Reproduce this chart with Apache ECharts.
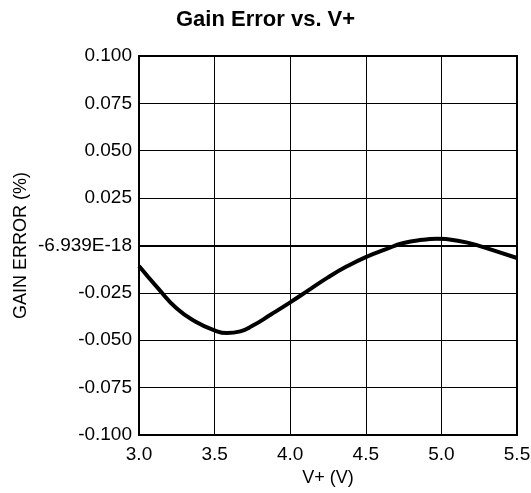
<!DOCTYPE html>
<html>
<head>
<meta charset="utf-8">
<script src="https://cdn.jsdelivr.net/npm/echarts@6/dist/echarts.min.js"></script>
<style>
  html, body { margin: 0; padding: 0; background: #fff; }
  #chart { width: 531px; height: 493px; }
</style>
</head>
<body>
<div id="chart"></div>
<script>
const titleText = 'Gain Error vs. V+';
const xAxisName = 'V+ (V)';
const yAxisName = 'GAIN ERROR (%)';
const vPlus = [3.0, 3.125, 3.25, 3.375, 3.5, 3.58, 3.67, 3.75, 3.875, 4.0, 4.125, 4.25, 4.375, 4.5, 4.625, 4.75, 4.875, 4.97, 5.125, 5.25, 5.375, 5.5];
const gainError = [-0.0108, -0.0225, -0.0333, -0.0402, -0.0448, -0.0462, -0.0453, -0.0424, -0.0363, -0.0300, -0.0234, -0.0168, -0.0110, -0.0061, -0.0022, 0.0013, 0.0030, 0.0035, 0.0022, -0.0002, -0.0034, -0.0066];
const xTickLabels = ['3.0', '3.5', '4.0', '4.5', '5.0', '5.5'];
const yTickLabels = ['-0.100', '-0.075', '-0.050', '-0.025', '-6.939E-18', '0.025', '0.050', '0.075', '0.100'];

const chart = echarts.init(document.getElementById('chart'), null, { renderer: 'canvas' });
const fontFamily = '"Liberation Sans", Arial, sans-serif';

chart.setOption({
  animation: false,
  backgroundColor: '#ffffff',
  title: {
    text: titleText,
    left: 176,
    top: 9,
    padding: 0,
    textStyle: { fontFamily: fontFamily, fontSize: 22, fontWeight: 'bold', color: '#000' }
  },
  grid: {
    left: 139, right: 14, top: 56, bottom: 58,
    outerBoundsMode: 'none',
    containLabel: false,
    show: true,
    borderColor: '#000',
    borderWidth: 2,
    backgroundColor: 'transparent'
  },
  xAxis: {
    type: 'value',
    min: 3.0, max: 5.5, interval: 0.5,
    name: xAxisName,
    nameLocation: 'middle',
    nameGap: 34,
    nameMoveOverlap: false,
    nameTextStyle: { fontFamily: fontFamily, fontSize: 18, color: '#000' },
    axisLine: { show: true, lineStyle: { color: '#000', width: 2 } },
    axisTick: { show: false },
    axisLabel: {
      margin: 10,
      fontFamily: fontFamily, fontSize: 19, color: '#000',
      formatter: function (v, i) { return xTickLabels[i] !== undefined ? xTickLabels[i] : v.toFixed(1); }
    },
    splitLine: { show: true, lineStyle: { color: '#000', width: 1 } }
  },
  yAxis: {
    type: 'value',
    min: -0.1, max: 0.1, interval: 0.025,
    name: yAxisName,
    nameLocation: 'middle',
    nameGap: 109,
    nameMoveOverlap: false,
    nameRotate: 90,
    nameTextStyle: { fontFamily: fontFamily, fontSize: 18, color: '#000' },
    axisLine: { show: true, lineStyle: { color: '#000', width: 2 } },
    axisTick: { show: false },
    axisLabel: {
      margin: 7,
      fontFamily: fontFamily, fontSize: 19, color: '#000',
      formatter: function (v, i) { return yTickLabels[i] !== undefined ? yTickLabels[i] : String(v); }
    },
    splitLine: { show: true, lineStyle: { color: '#000', width: 1 } }
  },
  series: [{
    type: 'line',
    data: vPlus.map(function (x, i) { return [x, gainError[i]]; }),
    smooth: 0.5,
    showSymbol: false,
    symbol: 'none',
    lineStyle: { color: '#000', width: 4 },
    z: 5
  }]
});
</script>
</body>
</html>
